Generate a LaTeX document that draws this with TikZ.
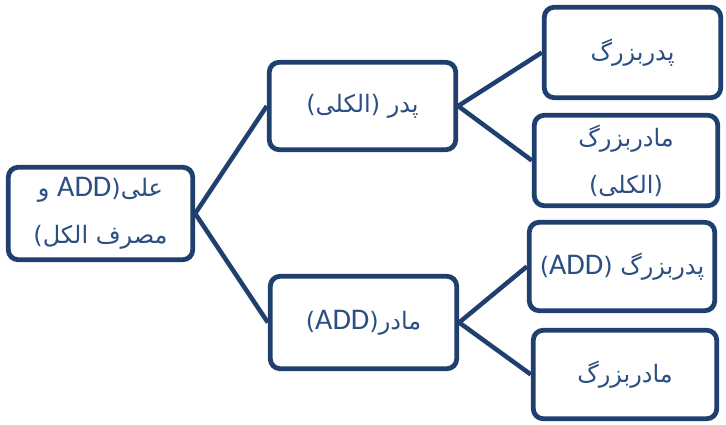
\documentclass[tikz,border=0pt]{standalone}
\usepackage{fontspec}
\TeXXeTstate=1
\newfontfamily\arabicfont[Script=Arabic]{DejaVu Sans}
\newfontfamily\latinfont{Carlito}
\definecolor{boxline}{HTML}{1F3F6E}
\definecolor{boxtext}{HTML}{2B4F82}
\newcommand{\rtl}[1]{\beginR #1\endR}
\newcommand{\addtxt}{\beginL{\latinfont\fontsize{30}{47}\selectfont ADD}\endL{}}
\tikzset{
  famnode/.style={draw=boxline, line width=4.8pt, rounded corners=10pt, fill=white,
    text=boxtext, align=center, inner sep=0pt,
    font=\arabicfont\fontsize{24}{47}\selectfont},
  link/.style={draw=boxline, line width=4.5pt}
}
\begin{document}
\begin{tikzpicture}[x=1pt,y=-1pt]
\useasboundingbox (0,0) rectangle (726,425);
\node[famnode, minimum width=184.5pt, minimum height=92.5pt] (root) at (100.5,213.5)
  {\rtl{علی(\addtxt{} و}\\\rtl{مصرف الکل)}};
\node[famnode, minimum width=186.5pt, minimum height=87.5pt] (father) at (362.5,106)
  {\rtl{پدر (الکلی)}};
\node[famnode, minimum width=186.5pt, minimum height=92.5pt] (mother) at (363.5,322.5)
  {\rtl{مادر(\addtxt)}};
\node[famnode, minimum width=176.5pt, minimum height=90.5pt] (gp1) at (632.5,52.5)
  {\rtl{پدربزرگ}};
\node[famnode, minimum width=183.5pt, minimum height=90.5pt] (gm1) at (626,160.5)
  {\rtl{مادربزرگ}\\\rtl{(الکلی)}};
\node[famnode, minimum width=185.5pt, minimum height=88.5pt] (gp2) at (622,266.5)
  {\rtl{پدربزرگ (\addtxt)}};
\node[famnode, minimum width=183.5pt, minimum height=88.5pt] (gm2) at (625,374.5)
  {\rtl{مادربزرگ}};
\draw[link] (root.east) -- (father.west);
\draw[link] (root.east) -- (mother.west);
\draw[link] (father.east) -- (gp1.west);
\draw[link] (father.east) -- (gm1.west);
\draw[link] (mother.east) -- (gp2.west);
\draw[link] (mother.east) -- (gm2.west);
\end{tikzpicture}
\end{document}
